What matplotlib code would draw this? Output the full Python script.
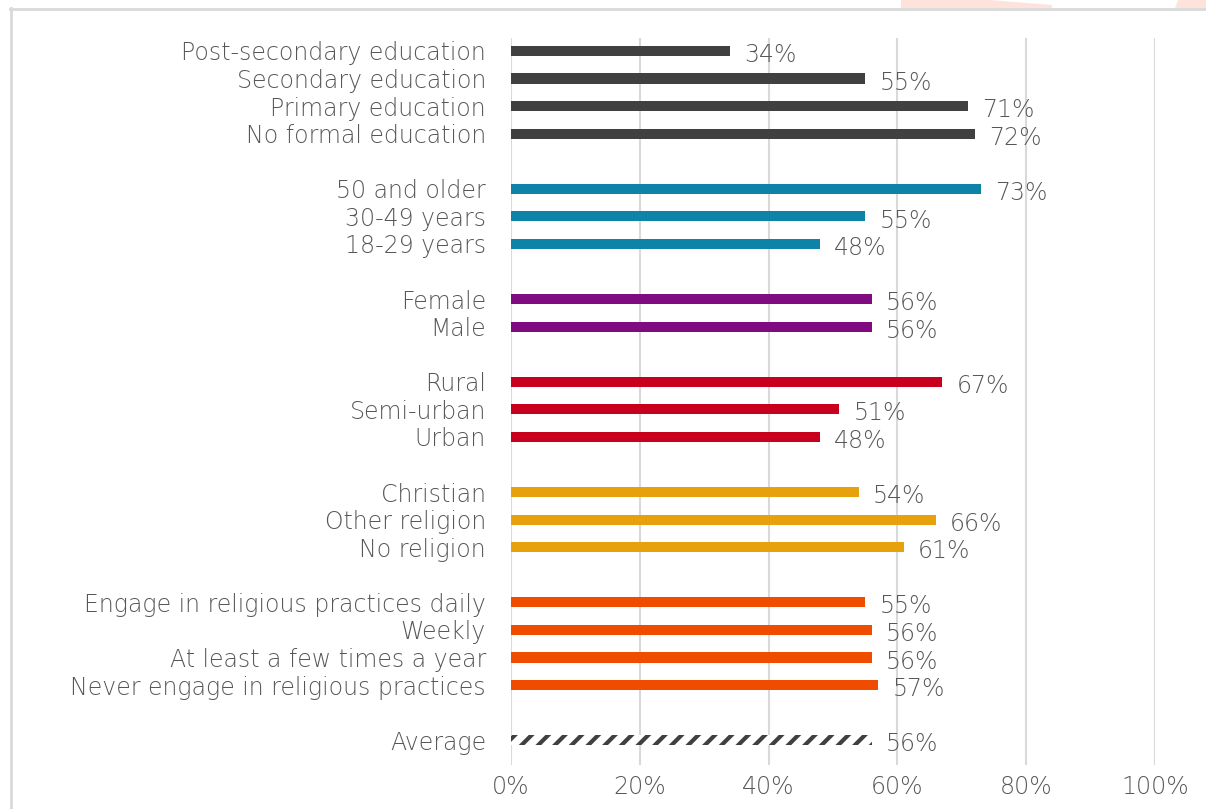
import matplotlib.pyplot as plt
from matplotlib.patches import Polygon
from matplotlib.lines import Line2D
import numpy as np

# groups, top to bottom
education_labels = ["Post-secondary education", "Secondary education",
                    "Primary education", "No formal education"]
education_values = [34, 55, 71, 72]

age_labels = ["50 and older", "30-49 years", "18-29 years"]
age_values = [73, 55, 48]

gender_labels = ["Female", "Male"]
gender_values = [56, 56]

location_labels = ["Rural", "Semi-urban", "Urban"]
location_values = [67, 51, 48]

religion_labels = ["Christian", "Other religion", "No religion"]
religion_values = [54, 66, 61]

practice_labels = ["Engage in religious practices daily", "Weekly",
                   "At least a few times a year", "Never engage in religious practices"]
practice_values = [55, 56, 56, 57]

average_label = "Average"
average_value = 56

groups = [
    (education_labels, education_values, "#404040"),
    (age_labels, age_values, "#0e83a8"),
    (gender_labels, gender_values, "#800a80"),
    (location_labels, location_values, "#c8001e"),
    (religion_labels, religion_values, "#e6a10c"),
    (practice_labels, practice_values, "#f04c00"),
]

W, H = 1206, 809
fig = plt.figure(figsize=(W / 100, H / 100), dpi=100)
plt.rcParams['hatch.linewidth'] = 3.0
plt.rcParams['font.weight'] = 'light'

# frame and faint background shapes along the top edge
def px(x, y):
    return (x / W, 1 - y / H)

fig.patches.append(Polygon([px(901, 0), px(990, 0), px(1052, 5), px(1052, 8), px(901, 8)],
                           closed=True, transform=fig.transFigure, facecolor="#fde3dc",
                           edgecolor="none"))
fig.patches.append(Polygon([px(1178, 0), px(1206, 0), px(1206, 8), px(1175, 8)],
                           closed=True, transform=fig.transFigure, facecolor="#fde3dc",
                           edgecolor="none"))
fig.lines.append(Line2D([11 / W, 11 / W], [0, 1 - 8 / H], transform=fig.transFigure,
                        color="#d9d9d9", lw=2))
fig.lines.append(Line2D([10 / W, 1], [1 - 8.5 / H, 1 - 8.5 / H], transform=fig.transFigure,
                        color="#d9d9d9", lw=2))

ax = fig.add_axes([511 / W, 1 - 765 / H, (1155 - 511) / W, (765 - 38) / H])

text_color = "#575757"
fs = 17
bar_h = 0.37

pos = 0
ticks, tick_labels = [], []
for labels, values, color in groups:
    for lab, val in zip(labels, values):
        ax.barh(pos, val, height=bar_h, color=color)
        ax.text(val + 2.2, pos + 0.15, f"{val}%", va="center", ha="left",
                fontsize=fs, color=text_color)
        ticks.append(pos)
        tick_labels.append(lab)
        pos += 1
    pos += 1

# average bar, hatched
ax.barh(pos, average_value, height=bar_h, color="white", edgecolor="#404040",
        hatch="//", linewidth=0)
ax.text(average_value + 2.2, pos + 0.15, f"{average_value}%", va="center", ha="left",
        fontsize=fs, color=text_color)
ticks.append(pos)
tick_labels.append(average_label)

ax.set_yticks(ticks)
ax.set_yticklabels(tick_labels, fontsize=fs, color=text_color)
ax.set_ylim(pos + 0.9, -0.47)
ax.set_xlim(0, 100)
ax.set_xticks(np.arange(0, 101, 20))
ax.set_xticklabels([f"{t}%" for t in range(0, 101, 20)], fontsize=fs, color=text_color)
ax.tick_params(axis="both", length=0)
ax.tick_params(axis="y", pad=18)
ax.tick_params(axis="x", pad=7)
ax.grid(axis="x", color="#d9d9d9", lw=1.5)
ax.set_axisbelow(True)
for s in ax.spines.values():
    s.set_visible(False)

fig.savefig("out.png", dpi=100)
